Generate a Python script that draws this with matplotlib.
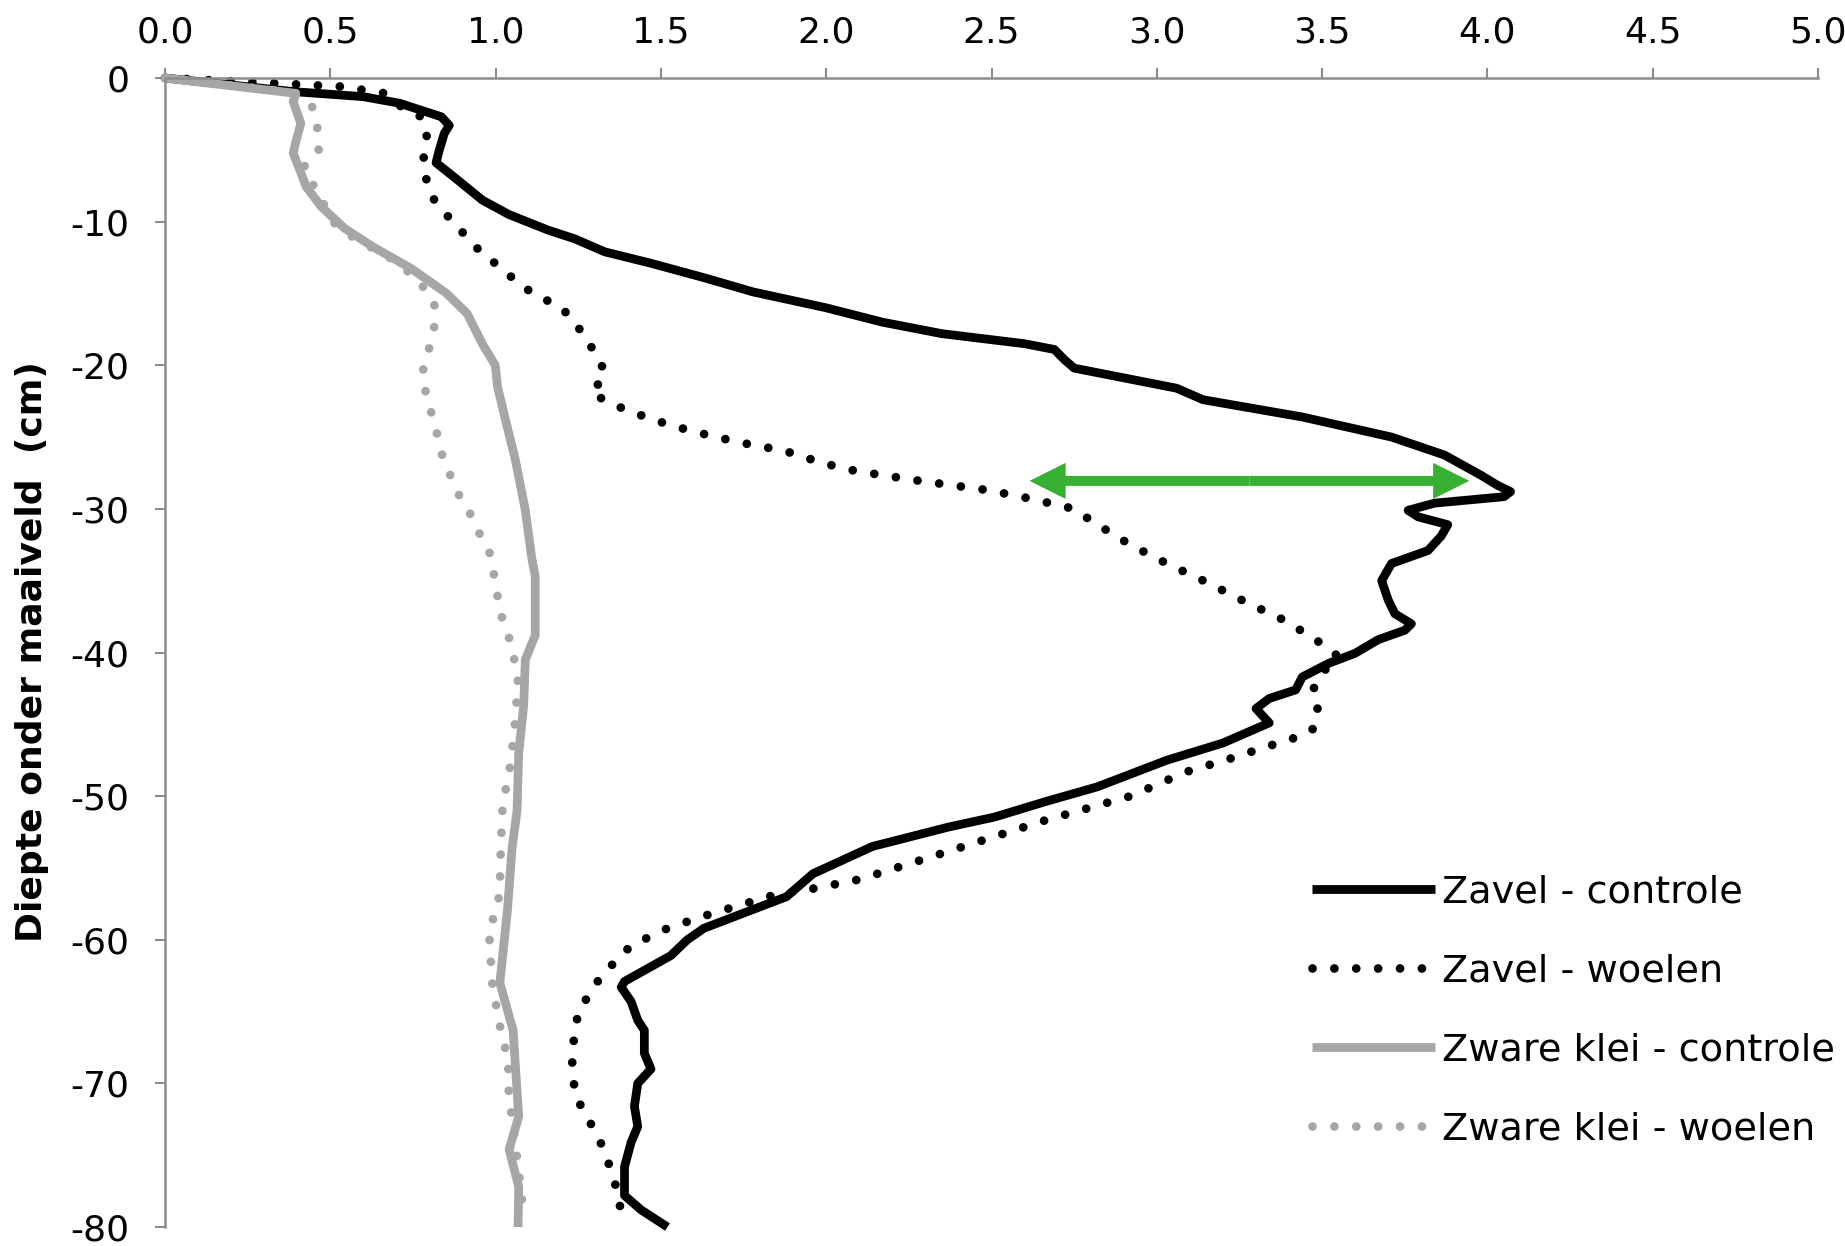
import matplotlib
matplotlib.use("Agg")
import matplotlib.pyplot as plt
from matplotlib.patches import FancyArrowPatch, ArrowStyle

# ---- data ----
zavel_controle_x = [0, 0.39, 0.6, 0.71, 0.836, 0.86, 0.845, 0.83, 0.82, 0.88, 0.96, 1.04, 1.16, 1.24,
                    1.33, 1.47, 1.63, 1.78, 2.0, 2.17, 2.35, 2.6, 2.69, 2.72, 2.75, 3.06, 3.14, 3.44,
                    3.71, 3.87, 3.98, 4.03, 4.07, 4.05, 3.84, 3.76, 3.79, 3.88, 3.86, 3.82, 3.71, 3.68,
                    3.70, 3.72, 3.77, 3.75, 3.67, 3.60, 3.52, 3.44, 3.42, 3.34, 3.30, 3.34, 3.20, 3.03,
                    2.82, 2.66, 2.51, 2.37, 2.14, 1.96, 1.88, 1.63, 1.58, 1.53, 1.39, 1.38, 1.41, 1.43,
                    1.45, 1.45, 1.47, 1.43, 1.42, 1.43, 1.41, 1.39, 1.39, 1.44, 1.52]
zavel_controle_y = [0, -0.95, -1.3, -1.76, -2.7, -3.3, -3.85, -5.0, -5.9, -7.0, -8.5, -9.5, -10.6, -11.2,
                    -12.1, -12.9, -13.9, -14.9, -16.0, -17.0, -17.8, -18.5, -18.9, -19.6, -20.2, -21.6,
                    -22.4, -23.6, -25.0, -26.25, -27.65, -28.35, -28.8, -29.15, -29.6, -30.1, -30.55,
                    -31.1, -31.9, -32.9, -33.8, -35.0, -36.35, -37.3, -38.0, -38.45, -39.1, -40.05,
                    -40.75, -41.7, -42.6, -43.2, -43.9, -44.9, -46.3, -47.5, -49.35, -50.4, -51.45,
                    -52.15, -53.5, -55.4, -57.0, -59.2, -60.0, -61.1, -62.9, -63.3, -64.3, -65.6, -66.3,
                    -67.9, -69.0, -70.0, -71.6, -73.0, -74.1, -75.8, -77.8, -78.8, -80.0]

zavel_woelen_x = [0, 0.535, 0.666, 0.72, 0.775, 0.793, 0.782, 0.787, 0.805, 0.847, 0.89, 0.929, 0.98,
                  1.03, 1.08, 1.138, 1.195, 1.24, 1.277, 1.312, 1.333, 1.289, 1.343, 1.405, 1.467, 1.532,
                  1.594, 1.659, 1.72, 1.787, 1.852, 1.918, 1.977, 2.042, 2.105, 2.17, 2.235, 2.3, 2.49,
                  2.62, 2.75, 2.80, 2.92, 3.03, 3.15, 3.27, 3.39, 3.50, 3.55, 3.50, 3.47, 3.49, 3.47,
                  3.41, 3.34, 3.22, 3.09, 2.92, 2.66, 2.47, 2.28, 2.10, 1.97, 1.84, 1.65, 1.52, 1.41,
                  1.32, 1.25, 1.23, 1.24, 1.30, 1.33, 1.37, 1.38]
zavel_woelen_y = [0, -0.6, -1.07, -2.1, -2.7, -3.85, -5.36, -6.75, -8.2, -9.42, -10.46, -11.55, -12.55,
                  -13.5, -14.5, -15.3, -15.9, -17.0, -18.3, -19.5, -20.7, -21.9, -22.6, -23.2, -23.7,
                  -24.2, -24.57, -24.96, -25.27, -25.6, -25.85, -26.24, -26.75, -27.1, -27.45, -27.63,
                  -27.89, -28.1, -28.7, -29.3, -30.0, -30.8, -32.5, -33.8, -35.1, -36.5, -37.8, -39.4,
                  -40.3, -41.4, -42.7, -44.2, -45.4, -46.0, -46.5, -47.4, -48.3, -50.0, -51.7, -53.1,
                  -54.5, -55.8, -56.4, -56.9, -58.2, -59.2, -60.4, -62.5, -65.0, -68.0, -70.8, -73.3,
                  -74.7, -77.6, -79.1]

klei_controle_x = [0, 0.396, 0.388, 0.411, 0.396, 0.388, 0.404, 0.427, 0.473, 0.543, 0.628, 0.744,
                   0.852, 0.914, 0.96, 0.999, 1.006, 1.03, 1.06, 1.09, 1.11, 1.12, 1.12, 1.09, 1.085,
                   1.07, 1.065, 1.05, 1.036, 1.013, 1.053, 1.07, 1.041, 1.07, 1.068]
klei_controle_y = [0, -1.07, -1.65, -3.15, -4.43, -5.24, -6.17, -7.56, -8.96, -10.46, -11.74, -13.25,
                   -15.0, -16.4, -18.5, -20.0, -21.5, -23.8, -26.6, -30.1, -33.5, -34.7, -38.8, -40.5,
                   -43.7, -47.0, -51.0, -53.6, -57.9, -63.0, -66.3, -72.3, -74.6, -77.2, -80.0]

klei_woelen_x = [0, 0.39, 0.45, 0.462, 0.465, 0.419, 0.512, 0.566, 0.682, 0.731, 0.779, 0.815, 0.815,
                 0.8, 0.781, 0.787, 0.804, 0.821, 0.836, 0.86, 0.886, 0.921, 0.948, 0.98, 0.996, 1.014,
                 1.05, 1.068, 1.057, 1.04, 1.022, 1.016, 1.013, 1.005, 0.978, 0.986, 0.986, 0.995, 1.01,
                 1.018, 1.041, 1.036, 1.051, 1.061, 1.076, 1.082]
klei_woelen_y = [0, -1.0, -2.11, -3.62, -5.06, -6.22, -10.1, -11.04, -12.55, -13.4, -14.48, -15.8,
                 -17.26, -18.75, -20.2, -21.7, -23.16, -24.6, -26.1, -27.5, -28.9, -30.23, -31.58,
                 -32.85, -34.7, -37.2, -39.6, -42.1, -45.4, -48.6, -50.4, -53.4, -56.4, -57.9, -59.3,
                 -60.8, -62.35, -63.9, -65.4, -66.8, -68.3, -69.7, -72.75, -74.4, -77.3, -78.7]

series_labels = ["Zavel - controle", "Zavel - woelen", "Zware klei - controle", "Zware klei - woelen"]

arrow_x = [2.615, 3.945]
arrow_depth = -28.05

x_ticks = [0, 0.5, 1.0, 1.5, 2.0, 2.5, 3.0, 3.5, 4.0, 4.5, 5.0]
y_ticks = [0, -10, -20, -30, -40, -50, -60, -70, -80]

plt.rcParams['font.family'] = ['DejaVu Sans']

GRAY_AX = '#8c8c8c'
GRAY = '#a6a6a6'
GREEN = '#38b034'
LW = 6.3
DOTS = (0, (0.001, 2.5))

fig = plt.figure(figsize=(18.45, 12.46), dpi=100)
ax = fig.add_axes([0.0894, 0.0152, 0.8960, 0.9222])

ax.plot(zavel_controle_x, zavel_controle_y, color='black', lw=LW, solid_joinstyle='round',
        solid_capstyle='butt', clip_on=False, label=series_labels[0])
ax.plot(zavel_woelen_x, zavel_woelen_y, color='black', lw=LW, linestyle=DOTS,
        dash_capstyle='round', clip_on=False, label=series_labels[1])
ax.plot(klei_controle_x, klei_controle_y, color=GRAY, lw=LW, solid_joinstyle='round',
        solid_capstyle='butt', clip_on=False, label=series_labels[2])
ax.plot(klei_woelen_x, klei_woelen_y, color=GRAY, lw=LW, linestyle=DOTS,
        dash_capstyle='round', clip_on=False, label=series_labels[3])

# double headed green arrow, drawn as two filled simple arrows from the middle
mid = (arrow_x[0] + arrow_x[1]) / 2
style = ArrowStyle.Simple(head_length=26, head_width=26, tail_width=7.2)
for end in arrow_x:
    ax.add_patch(FancyArrowPatch((mid, arrow_depth), (end, arrow_depth), arrowstyle=style,
                                 mutation_scale=1, shrinkA=0, shrinkB=0, lw=0,
                                 color=GREEN, zorder=5))

ax.set_xlim(0, 5)
ax.set_ylim(-80, 0)
ax.xaxis.tick_top()
ax.set_xticks(x_ticks)
ax.set_xticklabels([f"{v:.1f}" for v in x_ticks])
ax.set_yticks(y_ticks)
ax.set_yticklabels([str(v) for v in y_ticks])
ax.tick_params(axis='x', length=7.5, width=1.5, color=GRAY_AX, labelsize=26, pad=13)
ax.tick_params(axis='y', length=7.5, width=1.5, color=GRAY_AX, labelsize=26, pad=18)
for side in ['right', 'bottom']:
    ax.spines[side].set_visible(False)
for side in ['top', 'left']:
    ax.spines[side].set_color(GRAY_AX)
    ax.spines[side].set_linewidth(1.8)

fig.text(0.0175, 0.4767, "Diepte onder maaiveld  (cm)", rotation=90, ha='center', va='center',
         fontsize=26, fontweight='bold')

ax.legend(loc='upper left', bbox_to_anchor=(0.7111, 0.2985), bbox_transform=fig.transFigure,
          frameon=False, fontsize=27.5, handlelength=3.21, handletextpad=0.2,
          labelspacing=1.13, borderpad=0, borderaxespad=0)

fig.savefig("out.png", dpi=100)
